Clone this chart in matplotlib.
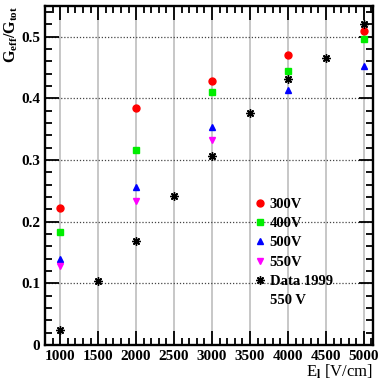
import matplotlib
matplotlib.use("Agg")
import matplotlib.pyplot as plt
from matplotlib.ticker import MultipleLocator

plt.rcParams['font.family'] = ['Liberation Serif', 'DejaVu Serif']
plt.rcParams['font.weight'] = 'bold'
plt.rcParams['mathtext.fontset'] = 'custom'
plt.rcParams['mathtext.rm'] = 'Liberation Serif:bold'
plt.rcParams['mathtext.it'] = 'Liberation Serif:bold'
plt.rcParams['mathtext.bf'] = 'Liberation Serif:bold'

# Data
x_300 = [1000, 2000, 3000, 4000, 5000]
y_300 = [0.222, 0.384, 0.429, 0.471, 0.509]
x_400 = [1000, 2000, 3000, 4000, 5000]
y_400 = [0.183, 0.316, 0.411, 0.445, 0.496]
x_500 = [1000, 2000, 3000, 4000, 5000]
y_500 = [0.140, 0.257, 0.354, 0.413, 0.452]
x_550 = [1000, 2000, 3000]
y_550 = [0.128, 0.234, 0.332]
x_1999 = [1000, 1500, 2000, 2500, 3000, 3500, 4000, 4500, 5000]
y_1999 = [0.024, 0.104, 0.169, 0.241, 0.307, 0.376, 0.432, 0.466, 0.521]

fig = plt.figure(figsize=(3.81, 3.80), dpi=100)
ax = fig.add_axes([45/381, 35/380, 328/381, 339/380])

ax.plot(x_300, y_300, 'o', color='#ff0000', ms=5, mec='#ff0000', label='300V', zorder=3)
ax.plot(x_400, y_400, 's', color='#00ee00', ms=5, mec='#00ee00', label='400V', zorder=3)
ax.plot(x_500, y_500, '^', color='#0000ff', ms=5, mec='#0000ff', label='500V', zorder=3)
ax.plot(x_550, y_550, 'v', color='#ff00ff', ms=5, mec='#ff00ff', label='550V', zorder=3)
ax.plot(x_1999, y_1999, marker=(8, 2, 0), ls='none', color='black', ms=6, mew=1.0,
        label='Data 1999', zorder=3)
ax.plot([], [], ' ', label='550 V')

ax.set_xlim(800, 5120)
ax.set_ylim(0, 0.55)
ax.xaxis.set_major_locator(MultipleLocator(500))
ax.xaxis.set_minor_locator(MultipleLocator(100))
ax.yaxis.set_major_locator(MultipleLocator(0.1))
ax.yaxis.set_minor_locator(MultipleLocator(0.02))
ax.yaxis.set_major_formatter(matplotlib.ticker.FuncFormatter(
    lambda v, p: '0' if abs(v) < 1e-9 else ('%.1f' % v)))

ax.tick_params(which='both', direction='in', top=True, right=True, labelsize=11, width=1.3)
ax.tick_params(which='major', length=10)
ax.tick_params(which='minor', length=5)
for s in ax.spines.values():
    s.set_linewidth(1.7)

ax.xaxis.grid(True, which='major', color='#bdbdbd', ls='-', lw=1.2)
ax.yaxis.grid(True, which='major', color='#444444', ls=(0, (1, 1.5)), lw=0.9)
ax.set_axisbelow(True)

ax.set_ylabel('$G_{eff}/G_{tot}$', loc='top', fontsize=11.5, labelpad=1)
ax.set_xlabel('E$_l$ [V/cm]', loc='right', fontsize=12, labelpad=0)

leg = ax.legend(loc='upper left', bbox_to_anchor=(0.64, 0.435), frameon=False,
                fontsize=10.5, handlelength=0.7, handletextpad=0.3, labelspacing=0.42,
                borderaxespad=0, borderpad=0)

fig.savefig('out.png', dpi=100)
